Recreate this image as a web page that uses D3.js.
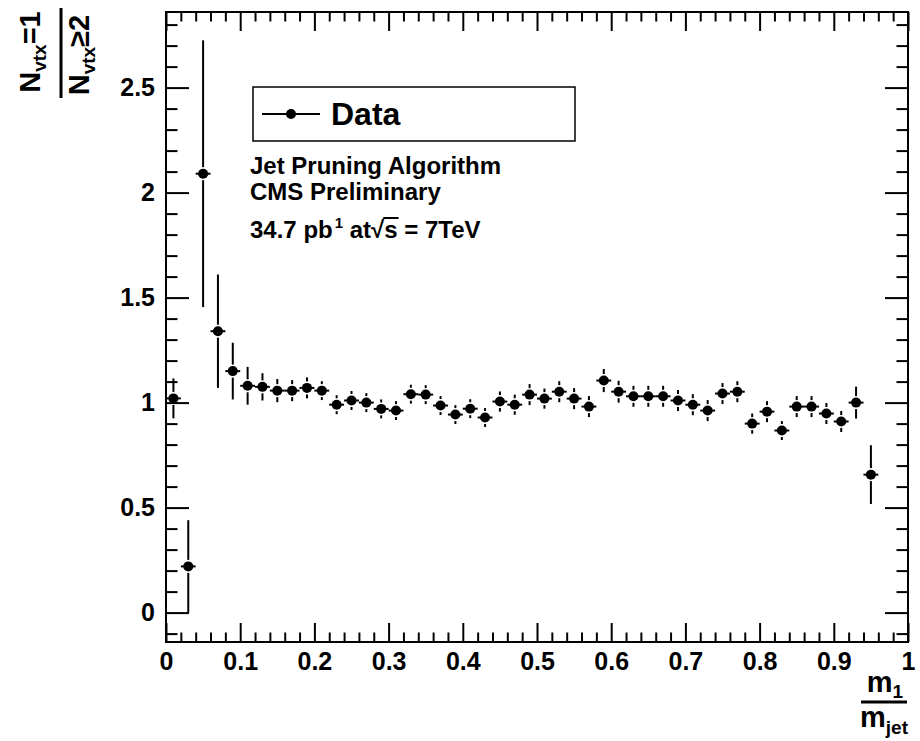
<!DOCTYPE html>
<html>
<head>
<meta charset="utf-8">
<script src="https://cdn.jsdelivr.net/npm/d3@7"></script>
<style>
  body { margin: 0; background: #fff; }
  svg { display: block; background: #fff; }
  text { font-family: "Liberation Sans", Arial, Helvetica, sans-serif; font-weight: bold; fill: #000; }
</style>
</head>
<body>
<svg id="chart" width="920" height="741"></svg>
<script>
// m1/mjet bin centres (bin width 0.02)
const binCenters = [0.01, 0.03, 0.05, 0.07, 0.09, 0.11, 0.13, 0.15, 0.17, 0.19,
                    0.21, 0.23, 0.25, 0.27, 0.29, 0.31, 0.33, 0.35, 0.37, 0.39,
                    0.41, 0.43, 0.45, 0.47, 0.49, 0.51, 0.53, 0.55, 0.57, 0.59,
                    0.61, 0.63, 0.65, 0.67, 0.69, 0.71, 0.73, 0.75, 0.77, 0.79,
                    0.81, 0.83, 0.85, 0.87, 0.89, 0.91, 0.93, 0.95];
const binHalfWidth = 0.01;

// ratio N(vtx=1) / N(vtx>=2)
const ratio = [1.02, 0.22, 2.09, 1.34, 1.15, 1.08, 1.075, 1.057, 1.057, 1.07,
               1.057, 0.99, 1.01, 1.0, 0.97, 0.962, 1.04, 1.038, 0.986, 0.943,
               0.971, 0.929, 1.005, 0.99, 1.038, 1.019, 1.052, 1.019, 0.981, 1.105,
               1.052, 1.03, 1.03, 1.03, 1.01, 0.99, 0.962, 1.043, 1.052, 0.9,
               0.957, 0.867, 0.981, 0.981, 0.948, 0.91, 1.0, 0.657];

// statistical uncertainty on the ratio
const ratioErr = [0.095, 0.22, 0.635, 0.27, 0.135, 0.09, 0.065, 0.055, 0.05, 0.05,
                  0.045, 0.045, 0.045, 0.045, 0.045, 0.045, 0.045, 0.045, 0.045, 0.045,
                  0.045, 0.045, 0.048, 0.048, 0.05, 0.048, 0.05, 0.05, 0.05, 0.055,
                  0.052, 0.05, 0.05, 0.05, 0.05, 0.05, 0.05, 0.05, 0.05, 0.048,
                  0.05, 0.045, 0.05, 0.05, 0.05, 0.05, 0.076, 0.14];

const xTickLabels = ["0", "0.1", "0.2", "0.3", "0.4", "0.5", "0.6", "0.7", "0.8", "0.9", "1"];
const yTickLabels = ["0", "0.5", "1", "1.5", "2", "2.5"];

const legendLabel = "Data";
const infoLines = ["Jet Pruning Algorithm", "CMS Preliminary"];

const svg = d3.select("#chart");
const frame = { left: 166, right: 908, top: 12, bottom: 642 };

const x = d3.scaleLinear().domain([0, 1]).range([frame.left, frame.right]);
const y = d3.scaleLinear().domain([-0.14, 2.86]).range([frame.bottom, frame.top]);

const xMajor = xTickLabels.map(Number);
const yMajor = yTickLabels.map(Number);
const xMinor = d3.range(0, 1.0001, 0.02).filter(v => !xMajor.some(m => Math.abs(m - v) < 1e-6));
const yMinor = d3.range(-0.1, 2.86, 0.1).filter(v => !yMajor.some(m => Math.abs(m - v) < 1e-6));

const xTickLen = 19, yTickLen = 23;

function styleAxis(g, width) {
  g.selectAll("path.domain").remove();
  g.selectAll("line").attr("stroke", "#000").attr("stroke-width", width);
}

// bottom axis: major ticks with labels, minor ticks
svg.append("g")
  .attr("transform", `translate(0,${frame.bottom})`)
  .call(d3.axisBottom(x).tickValues(xMajor).tickSize(-xTickLen).tickSizeOuter(0).tickPadding(10)
        .tickFormat((d, i) => xTickLabels[i]))
  .call(g => styleAxis(g, 2))
  .call(g => g.selectAll("text").attr("font-size", 25).attr("font-family", null));
svg.append("g")
  .attr("transform", `translate(0,${frame.bottom})`)
  .call(d3.axisBottom(x).tickValues(xMinor).tickSize(-xTickLen / 2).tickSizeOuter(0).tickFormat(""))
  .call(g => styleAxis(g, 2));

// top axis mirror
svg.append("g")
  .attr("transform", `translate(0,${frame.top})`)
  .call(d3.axisTop(x).tickValues(xMajor).tickSize(-xTickLen).tickSizeOuter(0).tickFormat(""))
  .call(g => styleAxis(g, 2));
svg.append("g")
  .attr("transform", `translate(0,${frame.top})`)
  .call(d3.axisTop(x).tickValues(xMinor).tickSize(-xTickLen / 2).tickSizeOuter(0).tickFormat(""))
  .call(g => styleAxis(g, 2));

// left axis
svg.append("g")
  .attr("transform", `translate(${frame.left},0)`)
  .call(d3.axisLeft(y).tickValues(yMajor).tickSize(-yTickLen).tickSizeOuter(0).tickPadding(11)
        .tickFormat((d, i) => yTickLabels[i]))
  .call(g => styleAxis(g, 2))
  .call(g => g.selectAll("text").attr("font-size", 25).attr("font-family", null));
svg.append("g")
  .attr("transform", `translate(${frame.left},0)`)
  .call(d3.axisLeft(y).tickValues(yMinor).tickSize(-yTickLen / 2).tickSizeOuter(0).tickFormat(""))
  .call(g => styleAxis(g, 2));

// right axis mirror
svg.append("g")
  .attr("transform", `translate(${frame.right},0)`)
  .call(d3.axisRight(y).tickValues(yMajor).tickSize(-yTickLen).tickSizeOuter(0).tickFormat(""))
  .call(g => styleAxis(g, 2));
svg.append("g")
  .attr("transform", `translate(${frame.right},0)`)
  .call(d3.axisRight(y).tickValues(yMinor).tickSize(-yTickLen / 2).tickSizeOuter(0).tickFormat(""))
  .call(g => styleAxis(g, 2));

// frame
svg.append("rect")
  .attr("x", frame.left).attr("y", frame.top)
  .attr("width", frame.right - frame.left).attr("height", frame.bottom - frame.top)
  .attr("fill", "none").attr("stroke", "#000").attr("stroke-width", 2);

// data points with error bars
const pts = binCenters.map((c, i) => ({ c, v: ratio[i], e: ratioErr[i] }));
const markerR = 5, gap = 1.5;
const gData = svg.append("g");
pts.forEach(p => {
  const cx = x(p.c), cy = y(p.v);
  const yTop = y(p.v + p.e), yBot = y(p.v - p.e);
  if (cy - yTop > markerR + gap)
    gData.append("line").attr("x1", cx).attr("x2", cx).attr("y1", yTop).attr("y2", cy - markerR - gap);
  if (yBot - cy > markerR + gap)
    gData.append("line").attr("x1", cx).attr("x2", cx).attr("y1", cy + markerR + gap).attr("y2", yBot);
  gData.append("line").attr("x1", x(p.c - binHalfWidth)).attr("x2", x(p.c + binHalfWidth))
    .attr("y1", cy).attr("y2", cy);
  gData.append("circle").attr("cx", cx).attr("cy", cy).attr("r", markerR).attr("fill", "#000");
});
gData.selectAll("line").attr("stroke", "#000").attr("stroke-width", 2);

// legend
const leg = svg.append("g");
leg.append("rect").attr("x", 253).attr("y", 87).attr("width", 322).attr("height", 54)
  .attr("fill", "#fff").attr("stroke", "#000").attr("stroke-width", 1.5);
leg.append("line").attr("x1", 262).attr("x2", 320).attr("y1", 114).attr("y2", 114)
  .attr("stroke", "#000").attr("stroke-width", 2);
leg.append("circle").attr("cx", 291).attr("cy", 114).attr("r", markerR).attr("fill", "#000");
leg.append("text").attr("x", 331).attr("y", 125).attr("font-size", 32).text(legendLabel);

// info text
const infoSize = 24;
svg.append("text").attr("x", 250).attr("y", 174).attr("font-size", infoSize).text(infoLines[0]);
svg.append("text").attr("x", 250).attr("y", 200).attr("font-size", infoSize).text(infoLines[1]);

// luminosity line with superscript and square root
const lumi = svg.append("text").attr("x", 250).attr("y", 238).attr("font-size", infoSize);
lumi.append("tspan").text("34.7 pb");
lumi.append("tspan").attr("font-size", 15).attr("dy", -10).attr("dx", 2).text("1");
lumi.append("tspan").attr("dy", 10).text(" at");
lumi.append("tspan").text("\u221A");
lumi.append("tspan").text("s");
lumi.append("tspan").text(" = 7TeV");
{
  const node = lumi.node();
  const full = node.textContent;
  const si = full.indexOf("\u221A") + 1;
  const s1 = node.getEndPositionOfChar(si);
  const rootEnd = node.getEndPositionOfChar(si - 1);
  svg.append("line").attr("x1", rootEnd.x - 1).attr("x2", s1.x + 1)
    .attr("y1", 218).attr("y2", 218).attr("stroke", "#000").attr("stroke-width", 2);
}

// y-axis title: N_vtx=1 over N_vtx>=2, rotated
function rotatedLabel(tx, ty, parts) {
  const t = svg.append("text")
    .attr("transform", `translate(${tx},${ty}) rotate(-90)`)
    .attr("text-anchor", "middle").attr("font-size", 29);
  let shift = 0;
  parts.forEach(p => {
    const ts = t.append("tspan").text(p.s).attr("dy", p.sh - shift);
    if (p.fs) ts.attr("font-size", p.fs);
    shift = p.sh;
  });
  return t;
}
rotatedLabel(40, 52, [{ s: "N", sh: 0 }, { s: "vtx", sh: 6, fs: 19 }, { s: "=1", sh: 0 }]);
rotatedLabel(89, 55, [{ s: "N", sh: 0 }, { s: "vtx", sh: 6, fs: 19 }, { s: "\u22652", sh: 0 }]);
svg.append("line").attr("x1", 61).attr("x2", 61).attr("y1", 8).attr("y2", 98)
  .attr("stroke", "#000").attr("stroke-width", 3);

// x-axis title: m_1 over m_jet
function fracPart(cx, by, parts) {
  const t = svg.append("text").attr("x", cx).attr("y", by)
    .attr("text-anchor", "middle").attr("font-size", 29);
  let shift = 0;
  parts.forEach(p => {
    const ts = t.append("tspan").text(p.s).attr("dy", p.sh - shift);
    if (p.fs) ts.attr("font-size", p.fs);
    shift = p.sh;
  });
}
fracPart(885, 692, [{ s: "m", sh: 0 }, { s: "1", sh: 6, fs: 19 }]);
fracPart(884, 727, [{ s: "m", sh: 0 }, { s: "jet", sh: 7, fs: 19 }]);
svg.append("line").attr("x1", 861).attr("x2", 907).attr("y1", 702).attr("y2", 702)
  .attr("stroke", "#000").attr("stroke-width", 3);
</script>
</body>
</html>
